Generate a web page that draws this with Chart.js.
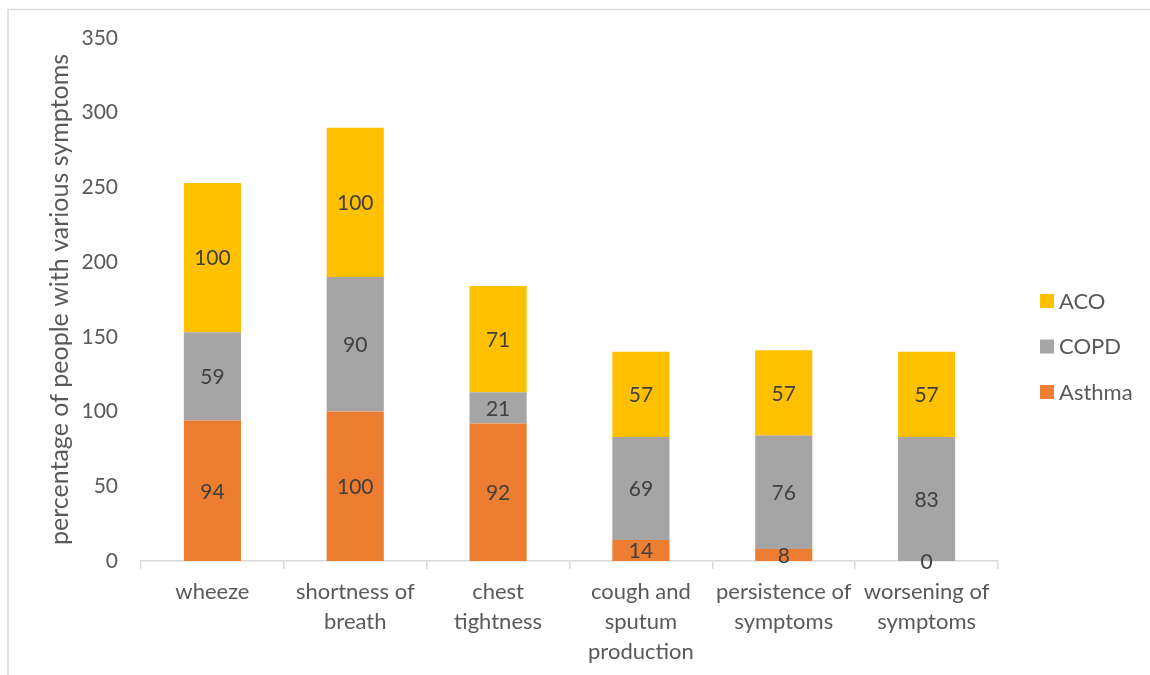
<!DOCTYPE html>
<html>
<head>
<meta charset="utf-8">
<script src="https://cdn.jsdelivr.net/npm/chart.js@4.4.0/dist/chart.umd.min.js"></script>
<style>
  html, body { margin: 0; padding: 0; background: #fff; }
  #wrap { width: 1150px; height: 675px; position: relative; }
</style>
</head>
<body>
<div id="wrap"><canvas id="c" width="1150" height="675"></canvas></div>
<script>
// Symptom categories (multi-line axis labels)
const categories = [
  ['wheeze'],
  ['shortness of', 'breath'],
  ['chest', 'tightness'],
  ['cough and', 'sputum', 'production'],
  ['persistence of', 'symptoms'],
  ['worsening of', 'symptoms']
];
// Percentage of each group reporting the symptom
const asthma = [94, 100, 92, 14, 8, 0];
const copd   = [59, 90, 21, 69, 76, 83];
const aco    = [100, 100, 71, 57, 57, 57];

const yMin = 0, yMax = 350, yStep = 50;
const yTitle = 'percentage of people with various symptoms';

const FONT = 'Lato';
const TEXT = '#595959';
const LABEL = '#404040';
const LINE = '#d9d9d9';

// Light outer frame around the chart
const framePlugin = {
  id: 'frame',
  beforeDraw(chart) {
    const ctx = chart.ctx;
    ctx.save();
    ctx.fillStyle = '#fff';
    ctx.fillRect(0, 0, chart.width, chart.height);
    ctx.strokeStyle = LINE;
    ctx.lineWidth = 1.5;
    ctx.beginPath();
    ctx.moveTo(8, chart.height);
    ctx.lineTo(8, 9.5);
    ctx.lineTo(chart.width, 9.5);
    ctx.stroke();
    ctx.restore();
  }
};

// Value labels centred in each stacked segment
const valueLabels = {
  id: 'valueLabels',
  afterDatasetsDraw(chart) {
    const ctx = chart.ctx;
    ctx.save();
    ctx.font = `21px ${FONT}`;
    ctx.fillStyle = LABEL;
    ctx.textAlign = 'center';
    ctx.textBaseline = 'middle';
    chart.data.datasets.forEach((ds, i) => {
      const meta = chart.getDatasetMeta(i);
      meta.data.forEach((bar, j) => {
        const y = (bar.y + bar.base) / 2;
        ctx.fillText(String(ds.data[j]), bar.x, y + 1);
      });
    });
    ctx.restore();
  }
};

// Legend on the right, top series first
const sideLegend = {
  id: 'sideLegend',
  afterDraw(chart) {
    const ctx = chart.ctx;
    const ds = chart.data.datasets.slice().reverse();
    const x0 = 1040, yc0 = 300.5, gap = 45.5, box = 13;
    ctx.save();
    ctx.font = `22px ${FONT}`;
    ctx.textAlign = 'left';
    ctx.textBaseline = 'middle';
    ds.forEach((d, k) => {
      const yc = yc0 + k * gap;
      ctx.fillStyle = d.backgroundColor;
      ctx.fillRect(x0, yc - box / 2, box + 1, box + 1);
      ctx.fillStyle = TEXT;
      ctx.fillText(d.label, x0 + 19, yc + 1);
    });
    ctx.restore();
  }
};

new Chart(document.getElementById('c'), {
  type: 'bar',
  data: {
    labels: categories,
    datasets: [
      { label: 'Asthma', data: asthma, backgroundColor: '#ED7D31' },
      { label: 'COPD',   data: copd,   backgroundColor: '#A5A5A5' },
      { label: 'ACO',    data: aco,    backgroundColor: '#FFC000' }
    ]
  },
  options: {
    responsive: false,
    animation: false,
    devicePixelRatio: 1,
    layout: { padding: { left: 43, right: 152, top: 38, bottom: 0 } },
    datasets: { bar: { categoryPercentage: 1, barPercentage: 0.4, borderWidth: 0 } },
    plugins: {
      legend: { display: false },
      tooltip: { enabled: false }
    },
    scales: {
      x: {
        stacked: true,
        grid: { display: true, drawOnChartArea: false, drawTicks: true, tickLength: 8, color: LINE, lineWidth: 1.5, offset: true },
        border: { display: true, color: LINE, width: 1.5 },
        ticks: { color: TEXT, font: { family: FONT, size: 22, lineHeight: 30 / 22 }, padding: 8, maxRotation: 0, autoSkip: false },
        afterFit(scale) { scale.height = 114; }
      },
      y: {
        stacked: true,
        min: yMin, max: yMax,
        grid: { display: false },
        border: { display: false },
        ticks: { stepSize: yStep, color: TEXT, font: { family: FONT, size: 21 }, padding: 15 },
        title: { display: true, text: yTitle, color: TEXT, font: { family: FONT, size: 25 }, padding: { top: 2, bottom: 2 } },
        afterFit(scale) { scale.width = 141 - 43; }
      }
    }
  },
  plugins: [framePlugin, valueLabels, sideLegend]
});
</script>
</body>
</html>
